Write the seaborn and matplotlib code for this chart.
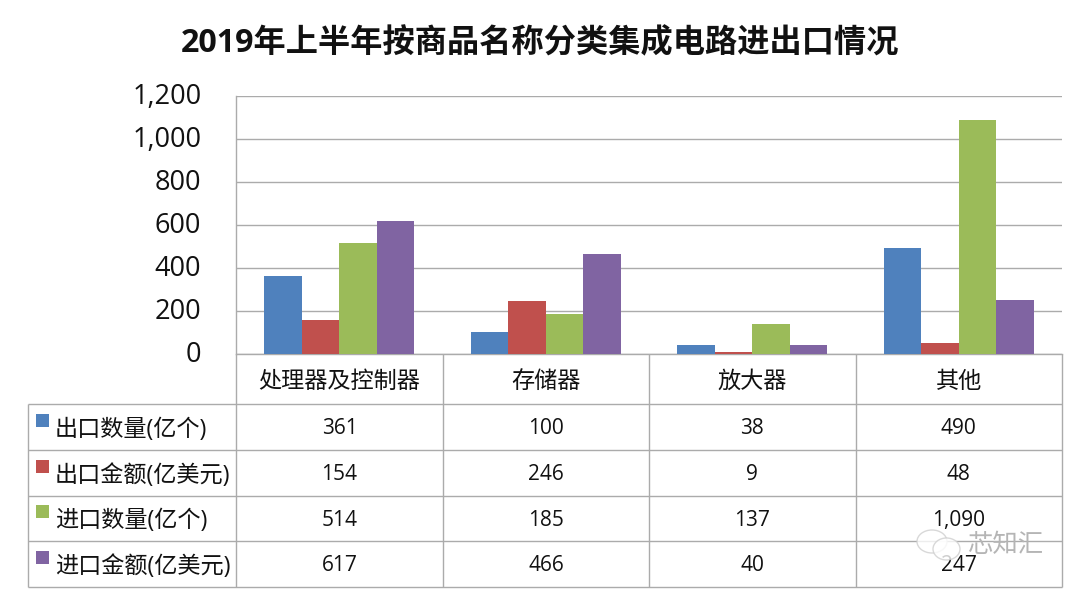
import matplotlib
matplotlib.use('Agg')
import matplotlib.pyplot as plt
from matplotlib.patches import Ellipse, Rectangle
from matplotlib.transforms import ScaledTranslation
import pandas as pd
import seaborn as sns

categories = ['处理器及控制器', '存储器', '放大器', '其他']
series_names = ['出口数量(亿个)', '出口金额(亿美元)', '进口数量(亿个)', '进口金额(亿美元)']
export_qty = [361, 100, 38, 490]
export_val = [154, 246, 9, 48]
import_qty = [514, 185, 137, 1090]
import_val = [617, 466, 40, 247]
series_values = [export_qty, export_val, import_qty, import_val]
colors = ['#4F81BD', '#C0504D', '#9BBB59', '#8064A2']
y_ticks = [0, 200, 400, 600, 800, 1000, 1200]

W, H = 1080, 594
GRID = '#ABABAB'

sns.set_theme(style='white')
plt.rcParams['font.family'] = ['Open Sans', 'Noto Sans CJK SC', 'DejaVu Sans']

rows = []
for name, values in zip(series_names, series_values):
    for cat, v in zip(categories, values):
        rows.append({'cat': cat, 'series': name, 'value': v})
df = pd.DataFrame(rows)

fig = plt.figure(figsize=(W / 100, H / 100), dpi=100)
fig.patch.set_facecolor('white')

# bar part, placed on the same pixels as the reference
left, right, top, bottom = 236, 1062, 96, 353.5
ax = fig.add_axes([left / W, (H - bottom) / H, (right - left) / W, (bottom - top) / H])
sns.barplot(data=df, x='cat', y='value', hue='series', hue_order=series_names,
            palette=colors, width=0.725, gap=0, saturation=1, legend=False, ax=ax,
            zorder=3, linewidth=0)
ax.set_ylim(0, 1200)
ax.set_xlim(-0.5, 3.5)
ax.set_yticks(y_ticks)
ax.set_yticklabels([f'{t:,}' for t in y_ticks], fontsize=19.5, color='#111111')
ax.set_xticks([])
ax.set_xlabel('')
ax.set_ylabel('')
ax.tick_params(axis='y', length=0, pad=25)
# nudge the tick labels down a little
nudge = ScaledTranslation(0, -1.5 / 100, fig.dpi_scale_trans)
for lab in ax.get_yticklabels():
    lab.set_verticalalignment('center')
    lab.set_transform(lab.get_transform() + nudge)
ax.yaxis.grid(True, color=GRID, lw=1)
ax.set_axisbelow(True)
for s in ['top', 'right']:
    ax.spines[s].set_visible(False)
for s in ['left', 'bottom']:
    ax.spines[s].set_color(GRID)
    ax.spines[s].set_linewidth(1)

# data table under the bars, in pixel coordinates
tab = fig.add_axes([0, 0, 1, 1])
tab.set_xlim(0, W)
tab.set_ylim(H, 0)
tab.axis('off')
tab.patch.set_alpha(0)

col_x = [236, 443, 649, 855.5, 1062]
row_y = [403.5, 449.5, 495.5, 541, 586.5]
table_left = 28
tab.hlines(row_y, table_left, 1062, color=GRID, lw=1)
tab.vlines(col_x, 353.5, 586.5, color=GRID, lw=1)
tab.vlines(table_left, 403.5, 586.5, color=GRID, lw=1)

for i, cat in enumerate(categories):
    cx = (col_x[i] + col_x[i + 1]) / 2
    tab.text(cx, 382, cat, ha='center', va='center', fontsize=16.7, color='#111111')
    for j, values in enumerate(series_values):
        cy = (row_y[j] + row_y[j + 1]) / 2
        tab.text(cx, cy + 2, f'{values[i]:,}', ha='center', va='center', fontsize=15, color='#111111')

for j, name in enumerate(series_names):
    cy = (row_y[j] + row_y[j + 1]) / 2
    tab.add_patch(Rectangle((36, cy - 13), 13, 13, color=colors[j], lw=0))
    tab.text(55, cy + 3, name, ha='left', va='center', fontsize=16.7, color='#111111')

fig.text(540 / W, 1 - 44 / H, '2019年上半年按商品名称分类集成电路进出口情况',
         ha='center', va='center', fontsize=23.2, fontweight='bold', color='#111111')

# watermark
tab.add_patch(Ellipse((932, 541.5), 30, 23, fc='white', ec='#cfcfcf', lw=1, alpha=0.8, zorder=5))
tab.add_patch(Ellipse((946.5, 549), 27, 22, fc='white', ec='#cfcfcf', lw=1, alpha=0.8, zorder=6))
tab.text(1005, 546, '芯知汇', ha='center', va='center', fontsize=18.3, color='#b5b5b5',
         fontweight='light', zorder=6)

fig.savefig('out.png', dpi=100)
